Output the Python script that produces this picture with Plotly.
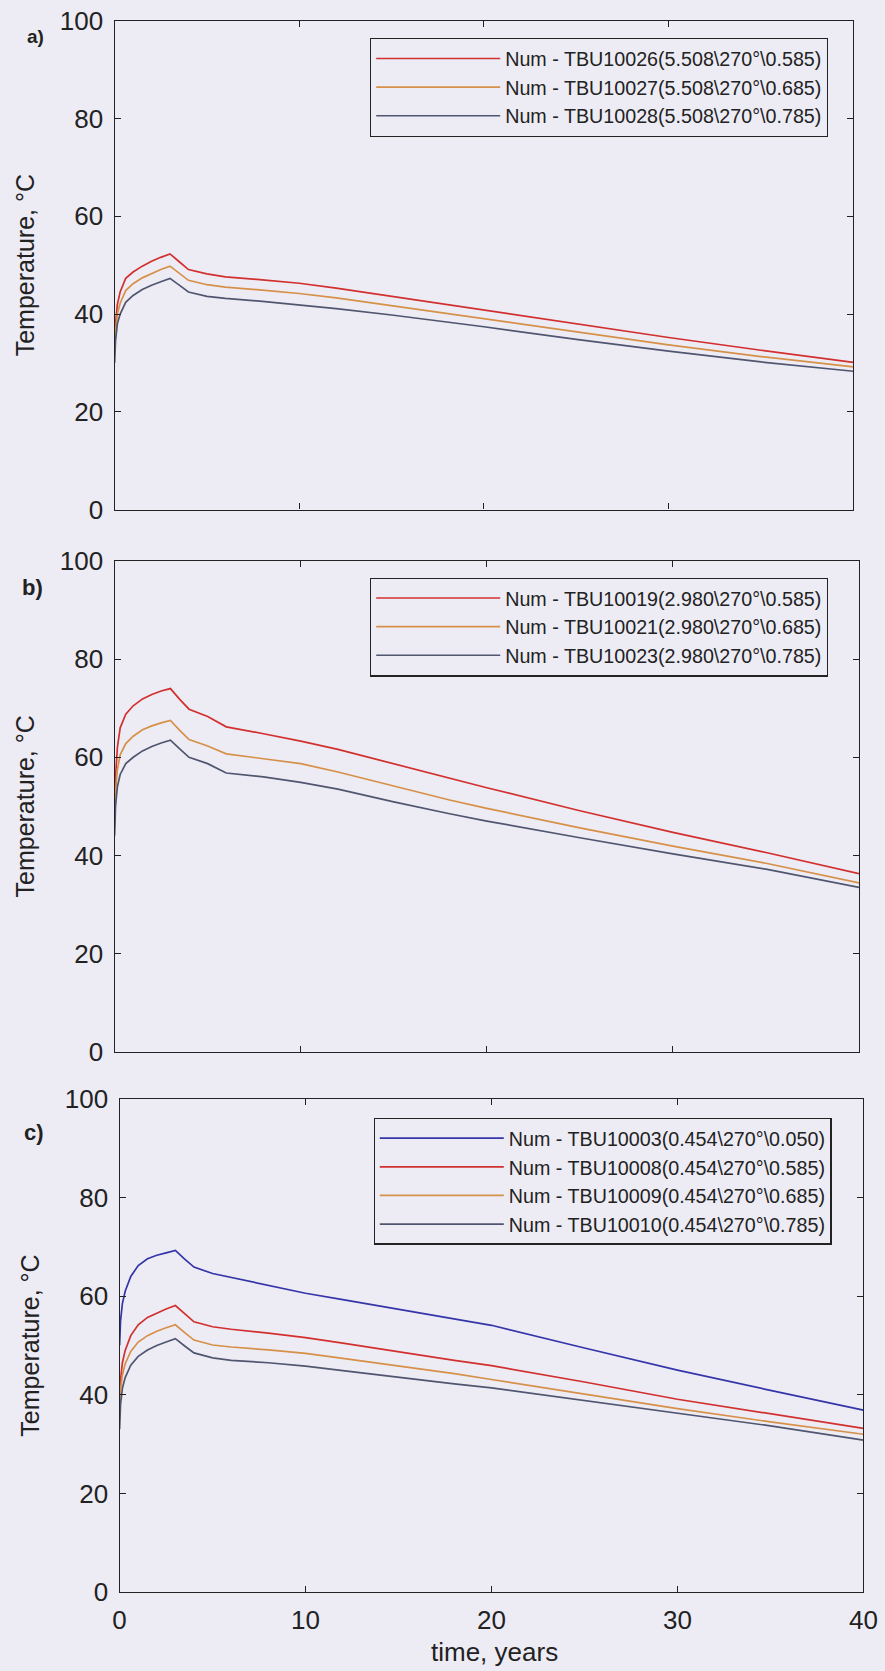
import plotly.graph_objects as go

# ---- data ----
t = [0, 0.05, 0.15, 0.3, 0.6, 1.0, 1.5, 2.0, 2.5, 3.0, 3.5, 4.0, 5.0, 6, 8, 10, 12, 15, 18, 20, 25, 30, 35, 40]

# panel a
a_names = ["Num - TBU10026(5.508\\270°\\0.585)",
           "Num - TBU10027(5.508\\270°\\0.685)",
           "Num - TBU10028(5.508\\270°\\0.785)"]
a_red = [33, 38, 42, 44.5, 47.3, 48.6, 49.8, 50.8, 51.6, 52.3, 50.7, 49.1, 48.2, 47.6, 47.0, 46.3, 45.3, 43.6, 42.0, 40.8, 38.0, 35.2, 32.6, 30.1]
a_orange = [32, 36.5, 40, 42.2, 44.8, 46.2, 47.4, 48.3, 49.1, 49.8, 48.3, 46.9, 46.0, 45.5, 44.9, 44.2, 43.3, 41.7, 40.2, 39.1, 36.4, 33.7, 31.3, 29.2]
a_grey = [30, 34.5, 38, 40, 42.4, 43.8, 45.0, 45.9, 46.6, 47.3, 45.9, 44.5, 43.6, 43.2, 42.6, 41.9, 41.1, 39.8, 38.4, 37.4, 34.8, 32.4, 30.2, 28.3]

# panel b
b_names = ["Num - TBU10019(2.980\\270°\\0.585)",
           "Num - TBU10021(2.980\\270°\\0.685)",
           "Num - TBU10023(2.980\\270°\\0.785)"]
b_red = [47, 56, 62, 66, 68.8, 70.5, 71.9, 72.8, 73.5, 74.0, 71.8, 69.8, 68.3, 66.2, 64.8, 63.3, 61.6, 58.7, 55.7, 53.8, 49.1, 44.7, 40.6, 36.3]
b_orange = [46, 53, 57.5, 60.5, 62.8, 64.3, 65.6, 66.4, 67.0, 67.5, 65.5, 63.6, 62.3, 60.7, 59.7, 58.7, 57.0, 54.1, 51.3, 49.6, 45.6, 41.9, 38.4, 34.4]
b_grey = [44, 50, 54, 56.5, 58.7, 60.0, 61.3, 62.2, 62.9, 63.5, 61.7, 60.0, 58.7, 56.8, 56.0, 54.9, 53.5, 50.9, 48.5, 47.0, 43.6, 40.3, 37.2, 33.5]

# panel c
c_names = ["Num - TBU10003(0.454\\270°\\0.050)",
           "Num - TBU10008(0.454\\270°\\0.585)",
           "Num - TBU10009(0.454\\270°\\0.685)",
           "Num - TBU10010(0.454\\270°\\0.785)"]
c_blue = [50, 55, 58.5, 61, 64, 66.2, 67.6, 68.3, 68.8, 69.3, 67.5, 65.9, 64.6, 63.8, 62.2, 60.6, 59.3, 57.3, 55.4, 54.1, 49.5, 45.0, 40.9, 36.9]
c_red = [38, 43, 46.5, 49, 52, 54.2, 55.7, 56.6, 57.4, 58.1, 56.4, 54.8, 53.8, 53.3, 52.5, 51.6, 50.5, 48.7, 47.0, 45.9, 42.6, 39.1, 36.2, 33.2]
c_orange = [36, 41, 44, 46.3, 48.8, 50.7, 52.0, 52.9, 53.6, 54.2, 52.6, 51.1, 50.1, 49.7, 49.1, 48.4, 47.4, 45.9, 44.3, 43.1, 40.2, 37.2, 34.5, 32.0]
c_grey = [33, 38, 41.3, 43.5, 46, 47.8, 49.1, 50.0, 50.7, 51.4, 49.9, 48.5, 47.5, 47.0, 46.5, 45.8, 44.9, 43.5, 42.2, 41.4, 38.8, 36.3, 33.7, 30.8]

x_ticks = [0, 10, 20, 30, 40]
y_ticks = [0, 20, 40, 60, 80, 100]
panel_labels = ["a)", "b)", "c)"]
x_title = "time, years"
y_title = "Temperature, °C"

# ---- style ----
RED = "#d2302e"
ORANGE = "#d69048"
GREY = "#505670"
BLUE = "#3535aa"
BG = "#edecf5"
INK = "#222222"
FONT = "Liberation Sans, Arial, sans-serif"
W, H = 885, 1671

fig = go.Figure()

panels = [
    (a_names, [a_red, a_orange, a_grey], [RED, ORANGE, GREY], "x", "y", "legend"),
    (b_names, [b_red, b_orange, b_grey], [RED, ORANGE, GREY], "x2", "y2", "legend2"),
    (c_names, [c_blue, c_red, c_orange, c_grey], [BLUE, RED, ORANGE, GREY], "x3", "y3", "legend3"),
]
for names, series, colors, xa, ya, lg in panels:
    for nm, ys, col in zip(names, series, colors):
        fig.add_trace(go.Scatter(x=t, y=ys, name=nm, mode="lines",
                                 line=dict(color=col, width=1.7),
                                 xaxis=xa, yaxis=ya, legend=lg))

# pixel geometry -> paper domains
def px_x(a, b):
    return [a / W, b / W]

def px_y(top, bottom):
    return [1 - bottom / H, 1 - top / H]

geo = [
    (px_x(114.6, 853.3), px_y(20.7, 509.6)),
    (px_x(114.6, 859.0), px_y(561.0, 1051.7)),
    (px_x(119.6, 863.4), px_y(1099.0, 1592.0)),
]

axis_common = dict(showline=True, linecolor=INK, linewidth=1.4, mirror="allticks",
                   ticks="inside", ticklen=6, tickcolor=INK, tickwidth=1.2,
                   showgrid=False, zeroline=False, automargin=False,
                   tickfont=dict(family=FONT, size=26, color=INK))

layout = dict(width=W, height=H, paper_bgcolor=BG, plot_bgcolor=BG,
              margin=dict(l=0, r=0, t=0, b=0, autoexpand=False), showlegend=True,
              font=dict(family=FONT, color=INK))

for i, (xd, yd) in enumerate(geo):
    sfx = "" if i == 0 else str(i + 1)
    xa = dict(axis_common, domain=xd, range=[0, 40], tickvals=x_ticks,
              anchor="y" + sfx, showticklabels=(i == 2), ticklabelstandoff=5)
    ya = dict(axis_common, domain=yd, range=[0, 100], tickvals=y_ticks,
              anchor="x" + sfx, ticklabelstandoff=5,
              title=dict(text=y_title, font=dict(family=FONT, size=25, color=INK), standoff=18))
    layout["xaxis" + sfx] = xa
    layout["yaxis" + sfx] = ya

legend_pos = [(370, 38), (370, 577.5), (373.6, 1117.7)]
for i, (lx, ty) in enumerate(legend_pos):
    key = "legend" if i == 0 else "legend" + str(i + 1)
    layout[key] = dict(x=lx / W, y=1 - ty / H, xanchor="left", yanchor="top",
                       bgcolor=BG, bordercolor=INK, borderwidth=1.2,
                       font=dict(family=FONT, size=19.7, color=INK),
                       itemwidth=124, tracegroupgap=0)

label_pos = [(35, 37), (32, 587), (34, 1132)]
label_size = [19, 22, 22]
annotations = []
for lab, (lx, ly), sz in zip(panel_labels, label_pos, label_size):
    annotations.append(dict(text="<b>" + lab + "</b>", x=lx / W, y=1 - ly / H,
                            xref="paper", yref="paper", showarrow=False,
                            xanchor="center", yanchor="middle",
                            font=dict(family=FONT, size=sz, color=INK)))
annotations.append(dict(text=x_title, x=494 / W, y=1 - 1652 / H, xref="paper", yref="paper",
                        showarrow=False, xanchor="center", yanchor="middle",
                        font=dict(family=FONT, size=26, color=INK)))
layout["annotations"] = annotations

fig.update_layout(**layout)
fig.write_html("out.html", config={"displayModeBar": False},
               post_script="document.body.style.margin='0';document.body.style.background='" + BG + "';")
